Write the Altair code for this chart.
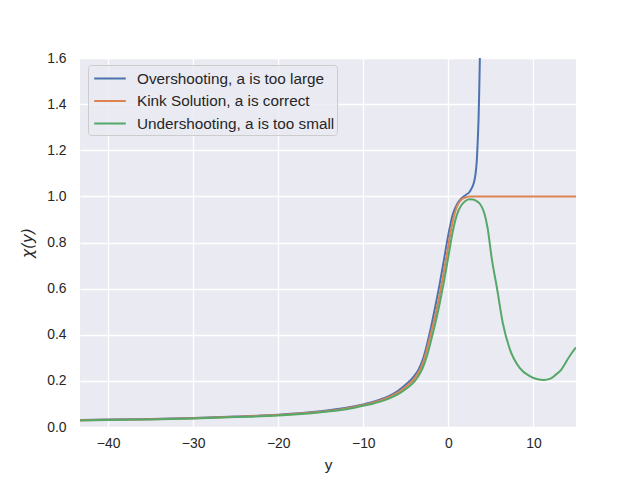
import altair as alt
import pandas as pd

names = ["Overshooting, a is too large", "Kink Solution, a is correct", "Undershooting, a is too small"]
colors = ["#4C72B0", "#DD8452", "#55A868"]

# Overshooting (blue)
x_over = [-43.3, -40, -35, -30, -25, -20, -15, -12, -10, -9, -8, -7, -6, -5, -4, -3.5, -3, -2.5, -2, -1.5,
          -1, -0.5, 0, 0.5, 1, 1.5, 2, 2.5, 2.8, 3.0, 3.2, 3.35, 3.45, 3.55, 3.62, 3.68, 3.72]
chi_over = [0.030, 0.032, 0.035, 0.039, 0.045, 0.053, 0.068, 0.083, 0.098, 0.107, 0.119, 0.134, 0.155, 0.184,
            0.222, 0.25, 0.293, 0.36, 0.44, 0.53, 0.625, 0.73, 0.835, 0.92, 0.965, 0.99, 1.005, 1.02,
            1.04, 1.06, 1.10, 1.16, 1.24, 1.34, 1.45, 1.56, 1.65]

# Kink solution (orange)
x_kink = [-43.3, -40, -35, -30, -25, -20, -15, -12, -10, -9, -8, -7, -6, -5, -4, -3.5, -3, -2.5, -2, -1.5,
          -1, -0.5, 0, 0.5, 1, 1.5, 2, 2.5, 3, 6, 10, 15]
chi_kink = [0.029, 0.031, 0.034, 0.038, 0.044, 0.052, 0.066, 0.080, 0.095, 0.104, 0.115, 0.129, 0.148, 0.175,
            0.21, 0.237, 0.277, 0.34, 0.414, 0.49, 0.58, 0.68, 0.79, 0.89, 0.955, 0.985, 0.995, 0.999,
            1.0, 1.0, 1.0, 1.0]

# Undershooting (green)
x_under = [-43.3, -40, -35, -30, -25, -20, -15, -12, -10, -9, -8, -7, -6, -5, -4, -3.5, -3, -2.5, -2, -1.5,
           -1, -0.5, 0, 0.5, 1, 1.5, 2, 2.5, 2.9, 3.3, 3.7, 4.2, 4.6, 5.1, 5.7, 6.4, 7.2, 8.4, 9.5, 10.5,
           11.2, 12, 12.6, 13.3, 13.8, 14.3, 15]
chi_under = [0.028, 0.030, 0.033, 0.037, 0.043, 0.050, 0.064, 0.077, 0.092, 0.100, 0.110, 0.123, 0.140, 0.165,
             0.197, 0.222, 0.258, 0.31, 0.38, 0.455, 0.54, 0.635, 0.74, 0.845, 0.92, 0.96, 0.98, 0.987,
             0.986, 0.98, 0.968, 0.93, 0.865, 0.73, 0.605, 0.45, 0.34, 0.255, 0.222, 0.207, 0.204, 0.21,
             0.226, 0.25, 0.28, 0.31, 0.345]

x_ticks = [-40, -30, -20, -10, 0, 10]
y_ticks = [0.0, 0.2, 0.4, 0.6, 0.8, 1.0, 1.2, 1.4, 1.6]

rows = []
for name, xs, ys in zip(names, [x_over, x_kink, x_under], [chi_over, chi_kink, chi_under]):
    for a, b in zip(xs, ys):
        rows.append({"yv": a, "chi": b, "series": name})
df = pd.DataFrame(rows)

FONT = "Liberation Sans"
TXT = "#262626"

color = alt.Color(
    "series:N",
    scale=alt.Scale(domain=names, range=colors),
    legend=alt.Legend(
        title=None,
        orient="none",
        legendX=8,
        legendY=7,
        symbolType="M-1.58,0H1.58",
        symbolSize=400,
        symbolStrokeWidth=2,
        symbolOffset=8.5,
        labelFont=FONT,
        labelFontSize=15.3,
        labelColor=TXT,
        labelOffset=16,
        labelLimit=400,
        labelExpr="datum.label + ' '",
        padding=2.5,
        rowPadding=2.5,
        fillColor="rgba(234,234,242,0.8)",
        strokeColor="#cccccc",
        cornerRadius=3,
    ),
)

base = alt.Chart(df).mark_line(strokeWidth=2, clip=True, interpolate="monotone").encode(
    x=alt.X("yv:Q", scale=alt.Scale(domain=[-43.3, 15], nice=False, zero=False),
            axis=alt.Axis(values=x_ticks, title="y", labelPadding=9, titlePadding=8)),
    y=alt.Y("chi:Q", scale=alt.Scale(domain=[0, 1.6], nice=False),
            axis=alt.Axis(values=y_ticks, format=".1f", title="χ(y)", labelPadding=14,
                          titlePadding=11, titleFont="DejaVu Sans", titleFontStyle="italic")),
    color=color,
)

layers = [base.transform_filter(alt.datum.series == n) for n in names]

chart = alt.layer(*layers).properties(
    width=496,
    height=369,
    autosize=alt.AutoSizeParams(type="none"),
    padding={"left": 72, "top": 50, "right": 56, "bottom": 50},
    background="white",
).configure_view(
    fill="#EAEAF2", stroke=None
).configure_axis(
    grid=True, gridColor="white", gridWidth=1.3, domain=False, ticks=False, tickSize=0,
    labelFont=FONT, labelFontSize=13.9, labelColor=TXT,
    titleFont=FONT, titleFontSize=15.3, titleColor=TXT, titleFontWeight="normal",
)

chart.save("out.html", embed_options={"renderer": "svg", "actions": False})
